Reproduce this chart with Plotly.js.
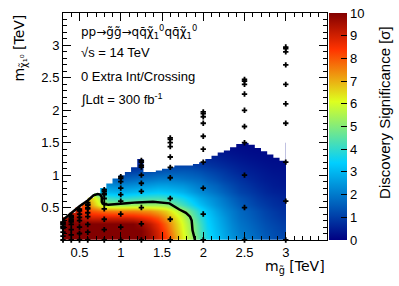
<!DOCTYPE html>
<html><head><meta charset="utf-8">
<script src="https://cdn.plot.ly/plotly-3.0.1.min.js"></script>
<style>html,body{margin:0;padding:0;background:#fff}#chart{width:399px;height:286px}</style>
</head><body><div id="chart"></div>
<script>
// ---- data ----
var heatX = [0.35,0.45,0.55,0.65,0.75,0.85,0.95,1.05,1.15,1.25,1.35,1.45,1.55,1.65,1.75,1.85,1.95,2.05,2.15,2.25,2.35,2.45,2.55,2.65,2.75,2.85,2.95];
var heatY = [0.05,0.15,0.25,0.35,0.45,0.55,0.65,0.75,0.85,0.95,1.05,1.15,1.25,1.35,1.45];
var significance = [
 [10,10,10,10,10,10,10,10,10,10,9.6,9.0,8.3,7.3,6.2,5.4,4.5,3.7,3.2,2.8,2.4,2.1,1.9,1.7,1.5,1.3,1.2],
 [10,10,10,10,10,10,10,10,10,10,9.5,8.9,8.1,7.1,6.1,5.3,4.4,3.6,3.1,2.7,2.3,2.0,1.8,1.6,1.4,1.25,1.1],
 [10,10,10,10,10,10,10,10,10,9.7,9.2,8.6,7.8,6.9,6.0,5.2,4.3,3.5,3.0,2.6,2.2,1.9,1.7,1.5,1.3,1.15,1.0],
 [9.5,9.5,9.3,9.0,9.0,9.0,9.0,9.0,8.9,8.7,8.4,8.0,7.3,6.6,5.8,4.9,4.1,3.4,2.9,2.5,2.1,1.8,1.6,1.4,1.2,1.05,0.9],
 [9.0,9.0,8.5,8.0,7.8,7.6,7.5,7.5,7.5,7.4,7.3,7.0,6.6,6.0,5.3,4.5,3.8,3.2,2.7,2.3,2.0,1.7,1.5,1.3,1.1,0.95,0.8],
 [8.0,8.0,8.0,7.0,6.0,5.3,5.2,5.2,5.3,5.3,5.3,5.3,5.2,4.7,4.2,3.7,3.2,2.8,2.4,2.1,1.8,1.5,1.3,1.1,0.95,0.8,0.7],
 [6.0,6.0,6.5,6.5,5.5,4.0,3.9,3.9,4.0,4.1,4.2,4.2,4.1,3.9,3.6,3.2,2.8,2.5,2.2,1.9,1.6,1.35,1.15,0.95,0.8,0.7,0.6],
 [5,5,5,5,3.3,3.0,2.9,2.9,3.0,3.1,3.2,3.3,3.2,3.1,2.9,2.6,2.3,2.1,1.85,1.6,1.35,1.1,0.95,0.8,0.65,0.55,0.5],
 [3,3,3,3,2.5,2.3,2.2,2.2,2.3,2.4,2.5,2.6,2.6,2.5,2.4,2.2,2.0,1.8,1.6,1.35,1.15,0.95,0.8,0.65,0.55,0.45,0.4],
 [2,2,2,2,2,1.8,1.6,1.6,1.7,1.8,1.9,2.0,2.0,2.0,1.9,1.8,1.7,1.5,1.3,1.1,0.95,0.8,0.65,0.55,0.45,0.4,0.35],
 [1.2,1.2,1.2,1.2,1.2,1.2,1.1,1.0,1.1,1.2,1.3,1.4,1.5,1.5,1.5,1.45,1.35,1.2,1.05,0.9,0.75,0.62,0.52,0.45,0.38,0.32,0.3],
 [0.7,0.7,0.7,0.7,0.7,0.7,0.7,0.7,0.7,0.7,0.9,1.0,1.05,1.1,1.1,1.1,1.0,0.9,0.8,0.7,0.6,0.5,0.42,0.36,0.3,0.26,0.24],
 [0.5,0.5,0.5,0.5,0.5,0.5,0.5,0.5,0.5,0.5,0.6,0.65,0.7,0.7,0.7,0.7,0.7,0.65,0.58,0.5,0.42,0.36,0.3,0.26,0.22,0.2,0.2],
 [0.4,0.4,0.4,0.4,0.4,0.4,0.4,0.4,0.4,0.4,0.4,0.4,0.4,0.4,0.4,0.4,0.4,0.4,0.4,0.36,0.3,0.26,0.22,0.2,0.18,0.16,0.15],
 [0.2,0.2,0.2,0.2,0.2,0.2,0.2,0.2,0.2,0.2,0.2,0.2,0.2,0.2,0.2,0.2,0.2,0.2,0.2,0.2,0.2,0.18,0.16,0.15,0.14,0.13,0.12]
];
// upper edge of the filled region (left edge of each bin, top of bin)
var boundaryX = [0.3,0.375,0.45,0.525,0.6,0.675,0.75,0.825,0.9,0.975,1.05,1.125,1.2,1.275,1.35,1.425,1.5,1.575,1.65,1.725,1.8,1.875,1.95,2.025,2.1,2.175,2.25,2.325,2.4,2.475,2.55,2.625,2.7,2.775,2.85,2.925];
var boundaryTop = [0.35,0.42,0.5,0.57,0.65,0.72,0.8,0.87,0.95,1.0,1.05,1.12,1.25,1.05,1.05,1.07,1.1,1.12,1.15,1.15,1.15,1.17,1.2,1.25,1.3,1.35,1.38,1.43,1.48,1.5,1.47,1.42,1.37,1.32,1.27,1.22];
// 5 sigma contour
var contourX = [0.3,0.4,0.5,0.6,0.67,0.72,0.75,0.77,0.77,0.79,0.85,1.07,1.2,1.39,1.5,1.59,1.71,1.79,1.84,1.86,1.87,1.89,1.9];
var contourY = [0.31,0.42,0.52,0.61,0.69,0.71,0.70,0.66,0.59,0.555,0.545,0.565,0.58,0.59,0.58,0.565,0.47,0.42,0.36,0.3,0.15,0.05,0.0];
// simulated signal points
var pointX = [
 0.3,0.3,0.3,0.3,0.3,0.3,0.3,0.3,0.3,0.3,
 0.4,0.4,0.4,0.4,0.4,0.4,0.4,0.4,0.4,0.4,
 0.5,0.5,0.5,0.5,0.5,0.5,0.5,0.5,
 0.6,0.6,0.6,0.6,0.6,0.6,0.6,0.6,0.6,0.6,
 0.8,0.8,0.8,0.8,0.8,0.8,0.8,0.8,0.8,0.8,
 1.0,1.0,1.0,1.0,1.0,1.0,1.0,1.0,1.0,
 1.25,1.25,1.25,1.25,1.25,1.25,1.25,1.25,1.25,1.25,
 1.6,1.6,1.6,1.6,1.6,1.6,1.6,1.6,1.6,1.6,
 2.0,2.0,2.0,2.0,2.0,2.0,2.0,2.0,2.0,2.0,
 2.5,2.5,2.5,2.5,2.5,2.5,2.5,2.5,2.5,2.5,
 3.0,3.0,3.0,3.0,3.0,3.0,3.0,3.0,3.0,3.0];
var pointY = [
 0,0.06,0.12,0.18,0.2,0.21,0.24,0.25,0.27,0.275,
 0,0.08,0.16,0.24,0.28,0.3,0.32,0.35,0.36,0.375,
 0,0.1,0.2,0.3,0.35,0.4,0.45,0.475,
 0,0.12,0.24,0.36,0.42,0.48,0.5,0.54,0.55,0.575,
 0,0.16,0.32,0.48,0.56,0.64,0.7,0.72,0.75,0.775,
 0,0.2,0.4,0.6,0.7,0.8,0.9,0.95,0.975,
 0,0.25,0.5,0.75,0.875,1.0,1.125,1.15,1.2,1.225,
 0,0.32,0.64,0.96,1.12,1.28,1.44,1.5,1.55,1.575,
 0,0.4,0.8,1.2,1.4,1.6,1.8,1.9,1.95,1.975,
 0,0.5,1.0,1.5,1.75,2.0,2.25,2.4,2.45,2.475,
 0,0.6,1.2,1.8,2.1,2.4,2.7,2.9,2.95,2.975];
var axisTicks = [0.5,1,1.5,2,2.5,3];
var zTicks = [0,1,2,3,4,5,6,7,8,9,10];

// ---- figure ----
var FONT = 'Liberation Sans, Arial, Helvetica, sans-serif';
var FONT2 = 'DejaVu Sans, Liberation Sans, sans-serif';
var maskX = boundaryX.concat([3.0, 3.0, 0.3]);
var maskY = boundaryTop.concat([boundaryTop[boundaryTop.length-1], 3.5, 3.5]);

var traces = [
 {type:'heatmap', x:heatX, y:heatY, z:significance, zmin:0, zmax:10, zsmooth:'best',
  colorscale:[[0,'rgb(0,0,130)'],[0.34,'rgb(0,207,255)'],[0.61,'rgb(222,255,31)'],[0.84,'rgb(255,51,0)'],[1,'rgb(130,0,0)']],
  hoverinfo:'skip',
  colorbar:{x:1.0076, xanchor:'left', xref:'paper', y:0.5, yanchor:'middle', len:1, lenmode:'fraction',
    thickness:18, thicknessmode:'pixels', outlinewidth:0, xpad:0, ypad:0,
    tickmode:'array', tickvals:zTicks, ticks:'inside', ticklen:6, tickcolor:'#000', tickwidth:1,
    tickfont:{family:FONT, size:13, color:'#000'}}},
 {type:'scatter', mode:'lines', x:maskX, y:maskY, fill:'toself', fillcolor:'#fff',
  line:{width:0, color:'#fff', shape:'hv'}, hoverinfo:'skip', showlegend:false},
 {type:'scatter', mode:'lines', x:contourX, y:contourY, line:{color:'#000', width:2.5}, hoverinfo:'skip', showlegend:false},
 {type:'scatter', mode:'markers', x:pointX, y:pointY, cliponaxis:false,
  marker:{symbol:'cross', size:4.5, color:'#000', line:{width:0}}, hoverinfo:'skip', showlegend:false}
];

var axisCommon = {
  showgrid:false, zeroline:false, showline:true, linecolor:'#000', linewidth:1, mirror:'ticks',
  ticks:'inside', ticklen:8, tickwidth:1, tickcolor:'#000', tickmode:'array', tickvals:axisTicks,
  tickfont:{family:FONT, size:13, color:'#000'},
  minor:{tickmode:'linear', tick0:0, dtick:0.1, ticks:'inside', ticklen:4, tickcolor:'#000', tickwidth:1, showgrid:false}
};

var layout = {
  width:399, height:286, margin:{l:63, r:72, t:13, b:46},
  paper_bgcolor:'#fff', plot_bgcolor:'#fff', showlegend:false,
  font:{family:FONT, size:13, color:'#000'},
  xaxis:Object.assign({range:[0.3,3.5]}, axisCommon),
  yaxis:Object.assign({range:[0,3.5]}, axisCommon),
  annotations:[
    {xref:'paper', yref:'paper', x:0.0606, y:0.916, xanchor:'left', yanchor:'middle', showarrow:false,
     text:'pp\u2192g\u0303g\u0303\u2192qq\u0304\u03c7\u0303<sub>1</sub><sup>0</sup>qq\u0304\u03c7\u0303<sub>1</sub><sup>0</sup>', font:{family:FONT2, size:12}},
    {xref:'paper', yref:'paper', x:0.0606, y:0.824, xanchor:'left', yanchor:'middle', showarrow:false,
     text:'\u221as = 14 TeV', font:{family:FONT, size:13}},
    {xref:'paper', yref:'paper', x:0.0606, y:0.72, xanchor:'left', yanchor:'middle', showarrow:false,
     text:'0 Extra Int/Crossing', font:{family:FONT, size:13}},
    {xref:'paper', yref:'paper', x:0.0606, y:0.62, xanchor:'left', yanchor:'middle', showarrow:false,
     text:'\u222bLdt = 300 fb<sup>-1</sup>', font:{family:FONT, size:13}},
    {xref:'paper', yref:'paper', x:1.0, y:-0.118, xanchor:'right', yanchor:'middle', showarrow:false,
     text:'m<sub>g\u0303</sub> [TeV]', font:{family:FONT2, size:14}},
    {xref:'paper', yref:'paper', x:-0.163, y:1.004, xanchor:'center', yanchor:'top', showarrow:false, textangle:-90,
     text:'m<sub>\u03c7\u0303\u2081\u2070</sub> [TeV]', font:{family:FONT2, size:14}},
    {xref:'paper', yref:'paper', x:1.2197, y:0.56, xanchor:'center', yanchor:'middle', showarrow:false, textangle:-90,
     text:'Discovery Significance [\u03c3]', font:{family:FONT, size:15}}
  ]
};

Plotly.newPlot('chart', traces, layout, {staticPlot:true, displayModeBar:false});
</script></body></html>
